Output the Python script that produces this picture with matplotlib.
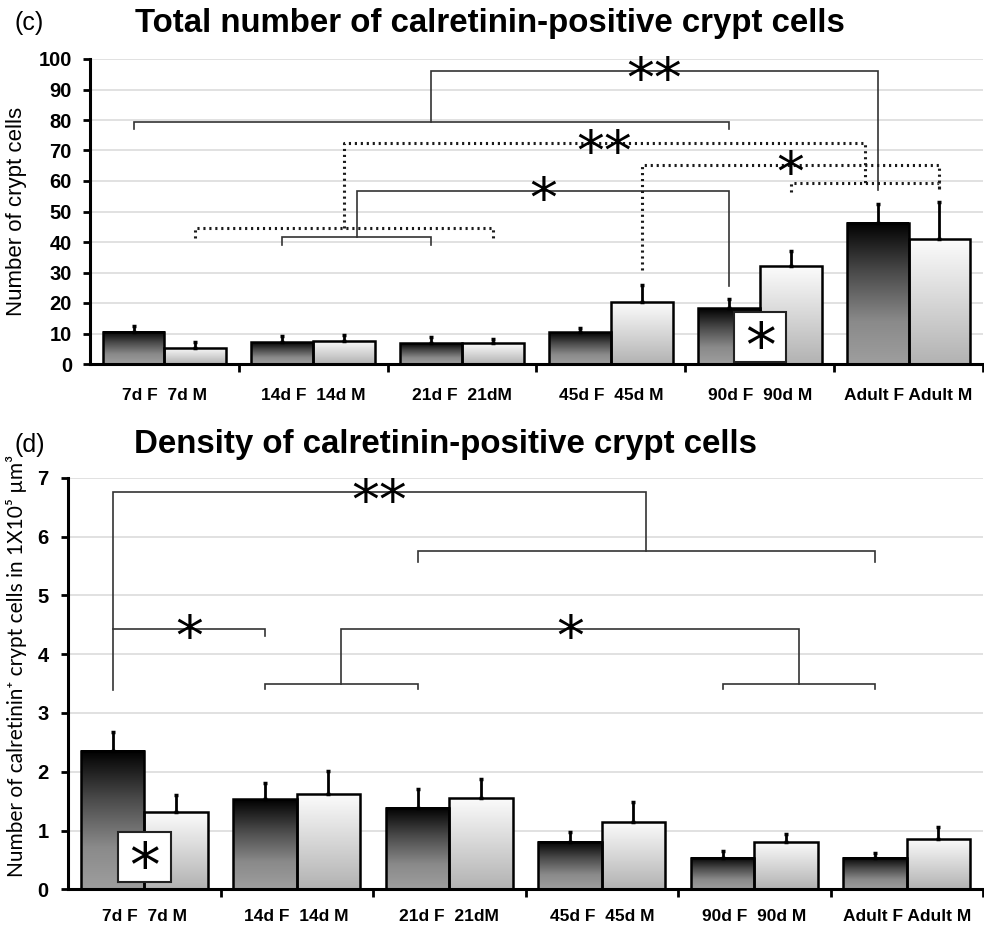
import numpy as np
import matplotlib
matplotlib.use('Agg')
import matplotlib.pyplot as plt
from matplotlib.patches import Rectangle
from matplotlib.colors import LinearSegmentedColormap

# ---------------- data ----------------
groups = ['7d', '14d', '21d', '45d', '90d', 'Adult']
group_labels = ['7d F  7d M', '14d F  14d M', '21d F  21dM', '45d F  45d M', '90d F  90d M', 'Adult F Adult M']

total_F = [10.6, 7.1, 6.8, 10.4, 18.3, 46.3]
total_F_sem = [1.9, 2.1, 2.1, 1.5, 3.0, 6.2]
total_M = [5.4, 7.6, 6.8, 20.2, 32.1, 41.0]
total_M_sem = [1.7, 1.9, 1.5, 5.6, 5.0, 12.2]

dens_F = [2.35, 1.53, 1.39, 0.81, 0.54, 0.53]
dens_F_sem = [0.32, 0.28, 0.32, 0.17, 0.11, 0.09]
dens_M = [1.31, 1.62, 1.55, 1.14, 0.80, 0.86]
dens_M_sem = [0.29, 0.39, 0.32, 0.34, 0.14, 0.20]

# significance brackets: (start, end, level, left leg to, right leg to, style, mark)
total_brackets = [
    ('F0', 'F4', 79.3, 77.0, 77.0, 'solid', ''),
    (('F0', 'F4'), 'F5', 96.2, 79.3, 57.0, 'solid', '**'),
    (('M0', 'M2'), ('M4', 'M5'), 72.3, 44.5, 59.4, 'dotted', '**'),
    (('F1', 'F2'), 'F4', 56.7, 41.7, 25.6, 'solid', '*'),
    ('F1', 'F2', 41.7, 38.9, 38.9, 'solid', ''),
    ('M0', 'M2', 44.5, 41.2, 41.2, 'dotted', ''),
    ('M3', 'M5', 65.2, 30.8, 56.5, 'dotted', '*'),
    ('M4', 'M5', 59.4, 56.5, 56.5, 'dotted', ''),
]
dens_brackets = [
    ('F0', ('F2', 'F5'), 6.75, 3.39, 5.75, 'solid', '**'),
    ('F2', 'F5', 5.75, 5.57, 5.57, 'solid', ''),
    ('F0', 'F1', 4.43, 4.43, 4.30, 'solid', '*'),
    (('F1', 'F2'), ('F4', 'F5'), 4.43, 3.50, 3.50, 'solid', '*'),
    ('F1', 'F2', 3.50, 3.40, 3.40, 'solid', ''),
    ('F4', 'F5', 3.50, 3.40, 3.40, 'solid', ''),
]
# boxed star between sexes: (group index, y bottom, y top)
total_box = (4, 0.55, 16.9)
dens_box = (0, 0.13, 0.97)

# ---------------- style ----------------
W = 0.415
cmF = LinearSegmentedColormap.from_list('F', [(0, '#9e9e9e'), (0.3, '#8a8a8a'), (0.65, '#4a4a4a'), (1, '#000000')])
cmM = LinearSegmentedColormap.from_list('M', [(0, '#b2b2b2'), (1, '#fcfcfc')])
grad = np.linspace(0, 1, 256).reshape(-1, 1)
FONT = 'Liberation Sans'


def pos(spec):
    if isinstance(spec, tuple):
        return 0.5 * (pos(spec[0]) + pos(spec[1]))
    i = int(spec[1:])
    return i - W / 2 if spec[0] == 'F' else i + W / 2


def star(ax, x, y, mark, size):
    ax.annotate(mark, (x, y), xytext=(0, -size * 0.47), textcoords='offset points',
                ha='center', va='baseline', fontsize=size, family='DejaVu Sans',
                zorder=7, annotation_clip=False)


def panel(ax, F, Fs, M, Ms, ymax, step, brackets, box, pad, ypad):
    n = len(groups)
    x = np.arange(n)
    for vals, sems, off, cm in ((F, Fs, -W / 2, cmF), (M, Ms, W / 2, cmM)):
        for i in range(n):
            c = x[i] + off
            ax.imshow(grad, extent=(c - W / 2, c + W / 2, 0, vals[i]), origin='lower',
                      aspect='auto', cmap=cm, vmin=0, vmax=1, zorder=2, interpolation='bilinear')
        ax.bar(x + off, vals, W, facecolor='none', edgecolor='black', linewidth=1.8, zorder=3)
        ax.errorbar(x + off, vals, yerr=[np.zeros(n), sems], fmt='none', ecolor='black',
                    elinewidth=2, capsize=1.5, capthick=2.5, zorder=4)
    for (a, b, lvl, l2, r2, st, mark) in brackets:
        xa, xb = pos(a), pos(b)
        if st == 'dotted':
            kw = dict(color='#1a1a1a', lw=2.2, ls=(0, (0.7, 1.25)))
        else:
            kw = dict(color='#333333', lw=1.2)
        ax.plot([xa, xa, xb, xb], [l2, lvl, lvl, r2], zorder=5, solid_joinstyle='miter', **kw)
        if mark:
            star(ax, 0.5 * (xa + xb), lvl, mark, 40)
    gi, y0, y1 = box
    ax.add_patch(Rectangle((gi - 0.17, y0), 0.345, y1 - y0, facecolor='white',
                           edgecolor='#222222', lw=1.5, zorder=6))
    star(ax, gi + 0.003, 0.5 * (y0 + y1), '*', 44)

    ax.set_xlim(-0.5, n - 0.5)
    ax.set_ylim(0, ymax)
    ax.set_yticks(np.arange(0, ymax + step / 2, step))
    ax.yaxis.grid(True, color='#dcdcdc', lw=1.2)
    ax.set_axisbelow(True)
    for s in ('top', 'right'):
        ax.spines[s].set_visible(False)
    for s in ('left', 'bottom'):
        ax.spines[s].set_linewidth(2.2)
    ax.set_xticks(np.arange(n) + 0.5)
    ax.set_xticklabels([])
    ax.set_xticks(x, minor=True)
    ax.set_xticklabels(group_labels, minor=True)
    ax.tick_params(axis='x', which='major', direction='out', length=6, width=2)
    ax.tick_params(axis='x', which='minor', length=0, pad=pad)
    ax.tick_params(axis='y', direction='out', length=5, width=2, pad=ypad)
    for t in ax.get_xticklabels(minor=True):
        t.set_fontsize(12.5)
        t.set_fontweight('bold')
        t.set_family(FONT)
    for t in ax.get_yticklabels():
        t.set_fontsize(14.5)
        t.set_fontweight('bold')
        t.set_family(FONT)


fig = plt.figure(figsize=(9.84, 9.33), dpi=100)
H = 933.0
Wd = 984.0
ax1 = fig.add_axes([90 / Wd, 1 - 364 / H, 893 / Wd, 305 / H])
ax2 = fig.add_axes([68 / Wd, 1 - 889.3 / H, 915 / Wd, 411.6 / H])

panel(ax1, total_F, total_F_sem, total_M, total_M_sem, 100, 10, total_brackets, total_box, 17, 8)
panel(ax2, dens_F, dens_F_sem, dens_M, dens_M_sem, 7, 1, dens_brackets, dens_box, 14, 9)

fig.text(15 / Wd, 1 - 30 / H, '(c)', fontsize=18, family=FONT, va='baseline', ha='left')
fig.text(490 / Wd, 1 - 32 / H, 'Total number of calretinin-positive crypt cells', fontsize=23.8,
         fontweight='bold', family=FONT, va='baseline', ha='center')
fig.text(15 / Wd, 1 - 452 / H, '(d)', fontsize=18, family=FONT, va='baseline', ha='left')
fig.text(446 / Wd, 1 - 453 / H, 'Density of calretinin-positive crypt cells', fontsize=23.8,
         fontweight='bold', family=FONT, va='baseline', ha='center')

fig.text(17 / Wd, 1 - 211 / H, 'Number of crypt cells', fontsize=16, family=FONT,
         rotation=90, ha='center', va='center')
fig.text(17 / Wd, 1 - 666 / H, 'Number of calretinin\u207a crypt cells in 1X10\u2075 \u00b5m\u00b3',
         fontsize=15, family=['Lato', 'DejaVu Sans'], rotation=90, ha='center', va='center')

fig.savefig('out.png', dpi=100)
